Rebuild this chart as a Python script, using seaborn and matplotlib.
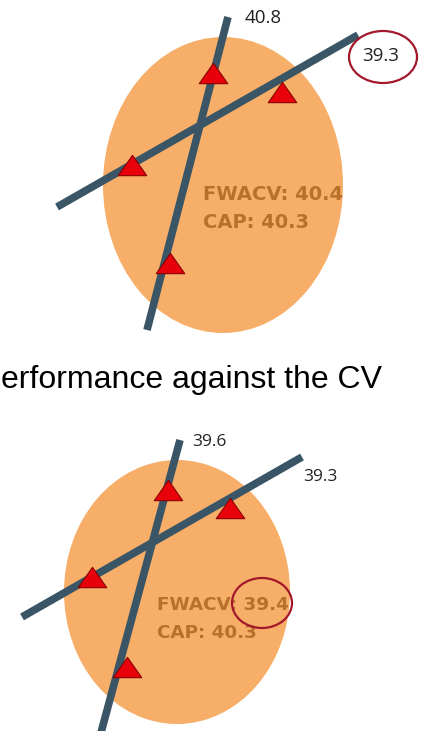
import numpy as np
import pandas as pd
import matplotlib.pyplot as plt
import seaborn as sns
from matplotlib.patches import Ellipse
from matplotlib.path import Path

sns.set_theme(style="white")
plt.rcParams['font.family'] = ['Liberation Sans', 'DejaVu Sans']

# diagram layout, in image pixels (x right, y down)
panels = ['top', 'bottom']
ellipse_centre = [(223, 185), (177, 592)]
ellipse_size = [(240, 296), (226, 264)]

# each panel: two bars (steep, shallow), each from one end to the other
steep_lines = [[(228, 17), (147, 330)], [(180, 440), (99, 740)]]
shallow_lines = [[(358, 35), (57, 207)], [(302, 457), (22, 617)]]

tri_x = [[213, 170, 282, 132], [168, 127, 230, 92]]
tri_y = [[73, 263, 92, 165], [490, 667, 508, 577]]

steep_value = ['40.8', '39.6']
steep_label_pos = [(245, 18), (192, 442)]
shallow_value = ['39.3', '39.3']
shallow_label_pos = [(362, 56), (303, 477)]
label_size = [13.5, 12.5]

fwacv = ['40.4', '39.4']
cap = ['40.3', '40.3']
info_pos = [(203, 195), (157, 605)]
info_size = [14, 13.2]

# red circles highlighting a value
circle_centre = [(383, 57), (262, 603)]
circle_size = [(68, 52), (60, 50)]

title = 'erformance against the CV'

line_col = '#3A5566'
orange = '#F6AE68'
brown = '#B8702A'
ring_col = '#A3182A'

tri_marker = Path([(-1.4, -1), (1.4, -1), (0, 1), (-1.4, -1)],
                  [Path.MOVETO, Path.LINETO, Path.LINETO, Path.CLOSEPOLY])

fig = plt.figure(figsize=(4.24, 7.31), dpi=100)
ax = fig.add_axes([0, 0, 1, 1])
ax.set_xlim(0, 424)
ax.set_ylim(731, 0)
ax.axis('off')

for i in range(len(panels)):
    ax.add_patch(Ellipse(ellipse_centre[i], *ellipse_size[i],
                         facecolor=orange, edgecolor='none', zorder=1))
    for seg in (steep_lines[i], shallow_lines[i]):
        d = pd.DataFrame(seg, columns=['x', 'y'])
        sns.lineplot(data=d, x='x', y='y', color=line_col, lw=5.5,
                     sort=False, estimator=None, ax=ax, zorder=2,
                     solid_capstyle='butt')
    sns.scatterplot(x=tri_x[i], y=tri_y[i], marker=tri_marker, s=420,
                    color='#E8000B', edgecolor='#8B0000', linewidth=0.8,
                    ax=ax, zorder=3)
    ax.text(*steep_label_pos[i], steep_value[i], fontsize=label_size[i],
            color='#222222', ha='left', va='center', family='Open Sans')
    ax.text(*shallow_label_pos[i], shallow_value[i], fontsize=label_size[i],
            color='#222222', ha='left', va='center', family='Open Sans')
    x0, y0 = info_pos[i]
    ax.text(x0, y0, f'FWACV: {fwacv[i]}', fontsize=info_size[i], color=brown,
            fontweight='bold', ha='left', va='center', family='DejaVu Sans')
    ax.text(x0, y0 + 28, f'CAP: {cap[i]}', fontsize=info_size[i], color=brown,
            fontweight='bold', ha='left', va='center', family='DejaVu Sans')
    ax.add_patch(Ellipse(circle_centre[i], *circle_size[i], facecolor='none',
                         edgecolor=ring_col, lw=1.6, zorder=4))

ax.text(1, 380, title, fontsize=23, color='black', ha='left', va='center')

fig.savefig('out.png', dpi=100)
